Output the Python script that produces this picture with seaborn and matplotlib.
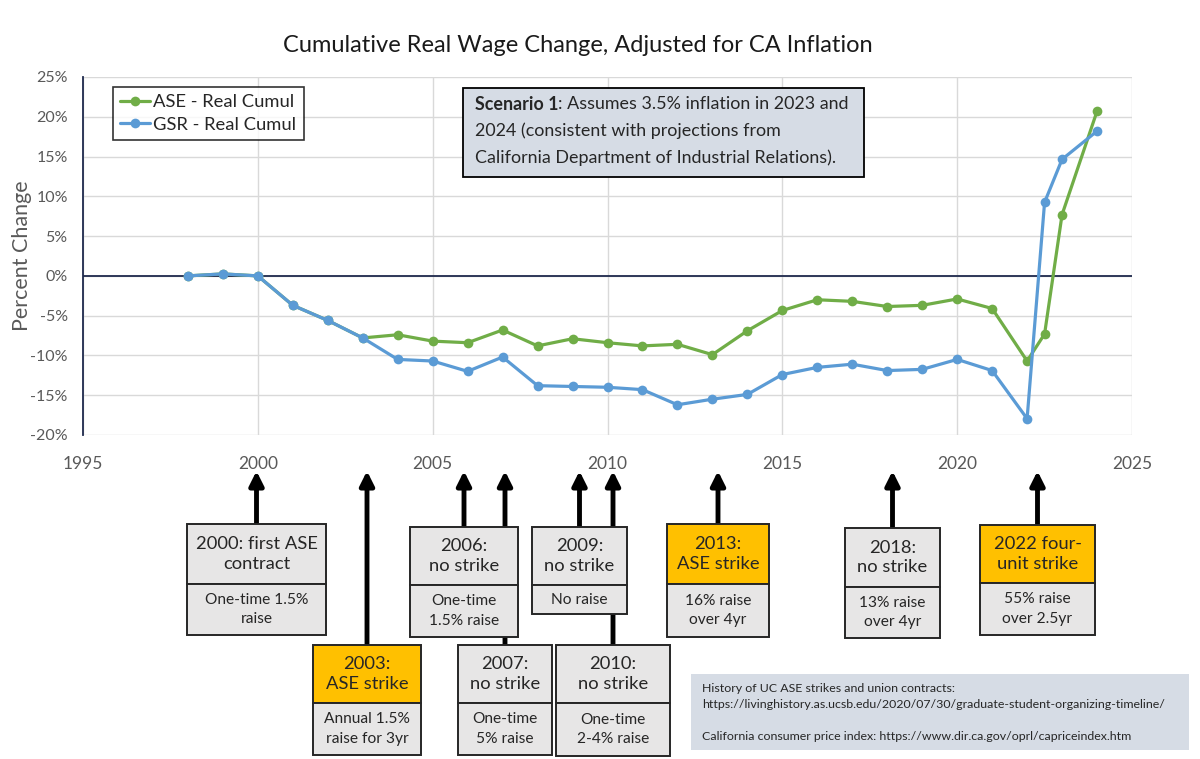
import matplotlib
matplotlib.use("Agg")
import matplotlib.pyplot as plt
from matplotlib.patches import Rectangle, FancyArrowPatch
import seaborn as sns
import pandas as pd

# Data
years = [1998, 1999, 2000, 2001, 2002, 2003, 2004, 2005, 2006, 2007, 2008, 2009,
         2010, 2011, 2012, 2013, 2014, 2015, 2016, 2017, 2018, 2019, 2020, 2021,
         2022, 2022.5, 2023, 2024]
ase_real_cumul = [0, 0.25, 0, -3.7, -5.6, -7.8, -7.4, -8.2, -8.4, -6.8, -8.8, -7.9,
                  -8.4, -8.8, -8.6, -9.9, -6.9, -4.35, -3.0, -3.2, -3.85, -3.7, -2.9, -4.1,
                  -10.7, -7.3, 7.7, 20.7]
gsr_real_cumul = [0, 0.25, 0, -3.7, -5.6, -7.8, -10.5, -10.7, -12.0, -10.2, -13.8, -13.9,
                  -14.0, -14.3, -16.2, -15.5, -14.9, -12.4, -11.5, -11.1, -11.9, -11.75, -10.5, -11.9,
                  -17.95, 9.25, 14.65, 18.2]
series_names = ["ASE - Real Cumul", "GSR - Real Cumul"]

# Contract / strike timeline
event_headers = ["2000: first ASE\ncontract", "2003:\nASE strike", "2006:\nno strike",
                 "2007:\nno strike", "2009:\nno strike", "2010:\nno strike",
                 "2013:\nASE strike", "2018:\nno strike", "2022 four-\nunit strike"]
event_bodies = ["One-time 1.5%\nraise", "Annual 1.5%\nraise for 3yr", "One-time\n1.5% raise",
                "One-time\n5% raise", "No raise", "One-time\n2-4% raise",
                "16% raise\nover 4yr", "13% raise\nover 4yr", "55% raise\nover 2.5yr"]
event_strike = [False, True, False, False, False, False, True, False, True]

# box layout in pixels: left, top, right, header bottom, bottom
box_layout = [(187, 524, 326, 584, 635), (313, 645, 421, 703, 755), (410, 527, 518, 585, 637),
              (458, 645, 552, 703, 755), (532, 527, 627, 585, 614), (556, 645, 670, 703, 756),
              (667, 524, 769, 584, 637), (845, 528, 940, 587, 638), (980, 525, 1095, 583, 635)]
# order boxes/arrows are drawn (2007 arrow passes behind the 2006 box)
draw_order = [0, 1, 3, 2, 5, 4, 6, 7, 8]

df = pd.DataFrame({
    "year": years * 2,
    "value": ase_real_cumul + gsr_real_cumul,
    "series": [series_names[0]] * len(years) + [series_names[1]] * len(years),
})

sns.set_style("white")
plt.rcParams["font.family"] = ["Lato", "DejaVu Sans"]

W, H = 1200, 759
fig = plt.figure(figsize=(12, 7.59), dpi=100)
ax = fig.add_axes([83 / W, 1 - 435 / H, (1132 - 83) / W, (435 - 77) / H])

def fx(x):
    return x / W

def fy(y):
    return 1 - y / H

ax.axhline(0, color="#1f2a4d", lw=1.3, zorder=1)
sns.lineplot(data=df, x="year", y="value", hue="series", palette=["#70ad47", "#5b9bd5"],
             marker="o", markersize=7, markeredgewidth=0, lw=2.3, ax=ax, zorder=3)

ax.set_xlim(1995, 2025)
ax.set_ylim(-20, 25)
ax.set_xticks(range(1995, 2026, 5))
ax.set_yticks(range(-20, 26, 5))
ax.set_yticklabels([f"{v}%" for v in range(-20, 26, 5)])
ax.grid(True, color="#d9d9d9", lw=1)
ax.set_axisbelow(True)
for s in ["top", "right", "bottom"]:
    ax.spines[s].set_visible(False)
ax.spines["left"].set_color("#1f2a4d")
ax.spines["left"].set_linewidth(1.3)
ax.tick_params(axis="both", length=0, colors="#595959")
ax.tick_params(axis="y", labelsize=11.5, pad=11)
ax.tick_params(axis="x", labelsize=12.5, pad=15)
ax.set_xlabel("")
ax.set_ylabel("Percent Change", fontsize=15.5, color="#595959")
ax.yaxis.set_label_coords((32 - 83) / (1132 - 83), (435 - 256) / (435 - 77))

leg = ax.legend(loc="upper left", bbox_to_anchor=(0.0286, 0.972), borderaxespad=0,
                fontsize=13.2, frameon=True, fancybox=False, edgecolor="black",
                handlelength=1.6, handletextpad=0.2, borderpad=0.4, labelspacing=0.35)
leg.get_frame().set_linewidth(1.2)

fig.text(fx(578), fy(45), "Cumulative Real Wage Change, Adjusted for CA Inflation",
         fontsize=17, ha="center", va="center", color="#1a1a1a")

# Scenario box
fig.add_artist(Rectangle((fx(463), fy(177)), fx(864 - 463), (177 - 88) / H,
                         transform=fig.transFigure, facecolor="#d6dce5",
                         edgecolor="black", lw=1.3, zorder=5))
t1 = fig.text(fx(475), fy(104), "Scenario 1", fontsize=12.9, fontweight="bold",
              va="center", ha="left", zorder=6)
fig.canvas.draw()
bb = t1.get_window_extent(renderer=fig.canvas.get_renderer())
fig.text(bb.x1 / fig.bbox.width, fy(104), ": Assumes 3.5% inflation in 2023 and",
         fontsize=12.9, va="center", ha="left", zorder=6)
fig.text(fx(475), fy(131), "2024 (consistent with projections from", fontsize=12.9,
         va="center", ha="left", zorder=6)
fig.text(fx(475), fy(158), "California Department of Industrial Relations).", fontsize=12.9,
         va="center", ha="left", zorder=6)

# Timeline arrows and boxes
z = 10
for i in draw_order:
    left, top, right, hdr, bottom = box_layout[i]
    cx = (left + right) / 2
    fig.add_artist(FancyArrowPatch((fx(cx), fy(top)), (fx(cx), fy(471)),
                                   transform=fig.transFigure, arrowstyle="-|>",
                                   mutation_scale=21, lw=3.5, color="black",
                                   shrinkA=0, shrinkB=0, zorder=z))
    head_color = "#ffc000" if event_strike[i] else "#e7e6e6"
    fig.add_artist(Rectangle((fx(left), fy(hdr)), fx(right - left), (hdr - top) / H,
                             transform=fig.transFigure, facecolor=head_color,
                             edgecolor="#262626", lw=1.4, zorder=z + 1))
    fig.add_artist(Rectangle((fx(left), fy(bottom)), fx(right - left), (bottom - hdr) / H,
                             transform=fig.transFigure, facecolor="#e7e6e6",
                             edgecolor="#262626", lw=1.4, zorder=z + 1))
    fig.text(fx(cx), fy((top + hdr) / 2), event_headers[i], fontsize=13.2, ha="center",
             va="center", linespacing=1.3, zorder=z + 2)
    fig.text(fx(cx), fy((hdr + bottom) / 2), event_bodies[i], fontsize=11.2, ha="center",
             va="center", linespacing=1.5, zorder=z + 2)
    z += 3

# Sources box
fig.add_artist(Rectangle((fx(691), fy(750)), fx(1189 - 691), (750 - 674) / H,
                         transform=fig.transFigure, facecolor="#d6dce5",
                         edgecolor="none", zorder=5))
fig.text(fx(702), fy(689), "History of UC ASE strikes and union contracts:", fontsize=8.9,
         va="center", ha="left", color="#262626", zorder=6)
fig.text(fx(702), fy(705),
         "https://livinghistory.as.ucsb.edu/2020/07/30/graduate-student-organizing-timeline/",
         fontsize=8.9, va="center", ha="left", color="#262626", zorder=6)
fig.text(fx(702), fy(737),
         "California consumer price index: https://www.dir.ca.gov/oprl/capriceindex.htm",
         fontsize=8.9, va="center", ha="left", color="#262626", zorder=6)

fig.savefig("out.png", dpi=100)
